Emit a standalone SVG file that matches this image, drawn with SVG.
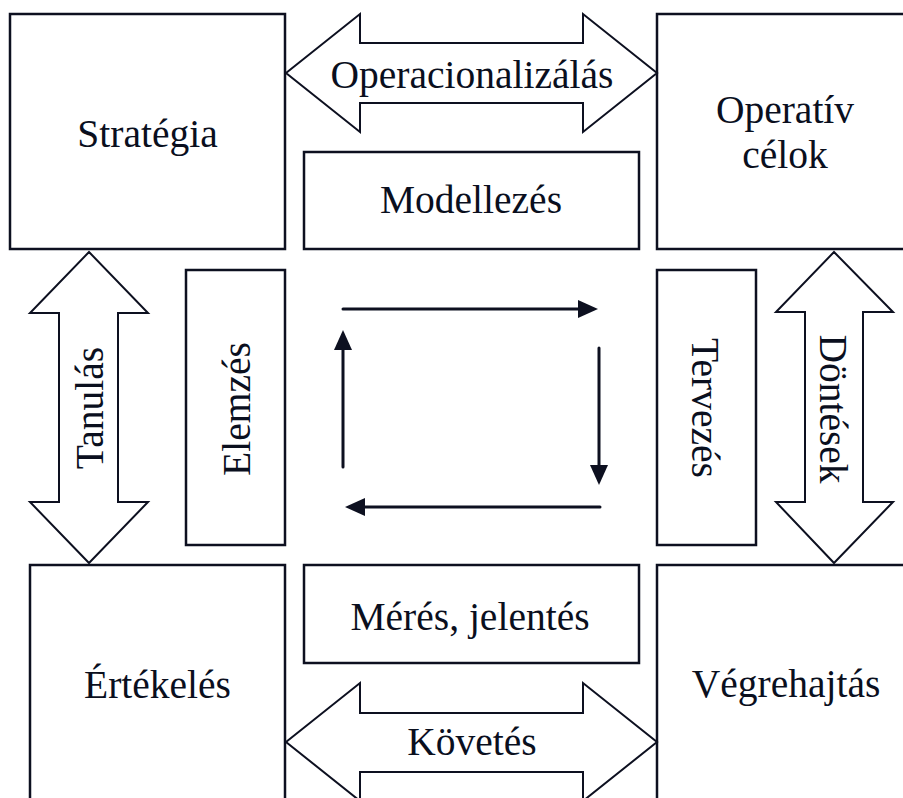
<svg xmlns="http://www.w3.org/2000/svg" width="903" height="798" viewBox="0 0 903 798">
<defs>
<style>
.box{fill:#fff;stroke:#0d1020;stroke-width:2.5}
.big{fill:#fff;stroke:#0d1020;stroke-width:2}
.t{font-family:"Liberation Serif","Times New Roman",serif;font-size:39.5px;fill:#0a0f1e;text-anchor:middle}
.cyc{stroke:#0d1020;stroke-width:3;fill:none;stroke-linecap:round}
</style>
<marker id="ah" viewBox="0 0 20 18" markerWidth="20" markerHeight="18" refX="1" refY="9" orient="auto" markerUnits="userSpaceOnUse">
<path d="M0,0 L20,9 L0,18 z" fill="#0d1020"/>
</marker>
</defs>
<rect width="903" height="798" fill="#fff"/>
<g id="strategia"><rect class="box" x="10" y="14" width="275" height="235"/><text class="t" x="147.5" y="147">Stratégia</text></g>
<g id="operativ"><rect class="box" x="657" y="14" width="258" height="235"/><text class="t" x="785" y="123">Operatív</text><text class="t" x="785" y="168">célok</text></g>
<g id="ertekeles"><rect class="box" x="30" y="565" width="255" height="260"/><text class="t" x="157.5" y="698">Értékelés</text></g>
<g id="vegrehajtas"><rect class="box" x="657" y="565" width="258" height="260"/><text class="t" x="786" y="697">Végrehajtás</text></g>
<g id="modellezes"><rect class="box" x="304" y="152" width="335" height="97"/><text class="t" x="471" y="213">Modellezés</text></g>
<g id="meres"><rect class="box" x="304" y="565" width="335" height="98"/><text class="t" x="470" y="630">Mérés, jelentés</text></g>
<g id="elemzes"><rect class="box" x="186" y="270" width="99" height="275"/><text class="t" transform="translate(250,409) rotate(-90)">Elemzés</text></g>
<g id="tervezes"><rect class="box" x="657" y="270" width="99" height="275"/><text class="t" transform="translate(692,408) rotate(90)">Tervezés</text></g>
<g id="connectors">
<g id="operacionalizalas"><polygon class="big" points="286,73 360,14 360,43 583,43 583,14 657,73 583,132 583,103 360,103 360,132"/><text class="t" x="472" y="88">Operacionalizálás</text></g>
<g id="kovetes"><polygon class="big" points="286,742 360,683 360,713 583,713 583,683 657,742 583,801 583,772 360,772 360,801"/><text class="t" x="472" y="755">Követés</text></g>
<g id="tanulas"><polygon class="big" points="89,252 148,313 118,313 118,502 148,502 89,563 30,502 59,502 59,313 30,313"/><text class="t" transform="translate(103,408) rotate(-90)">Tanulás</text></g>
<g id="dontesek"><polygon class="big" points="834,252 893,312 863,312 863,502 893,502 834,563 776,502 805,502 805,312 776,312"/><text class="t" transform="translate(820,409) rotate(90)">Döntések</text></g>
<line class="cyc" x1="343" y1="309" x2="579" y2="309" marker-end="url(#ah)"/>
<line class="cyc" x1="599" y1="348" x2="599" y2="466" marker-end="url(#ah)"/>
<line class="cyc" x1="600" y1="507" x2="364" y2="507" marker-end="url(#ah)"/>
<line class="cyc" x1="343" y1="467" x2="343" y2="349" marker-end="url(#ah)"/>
</g>
</svg>
